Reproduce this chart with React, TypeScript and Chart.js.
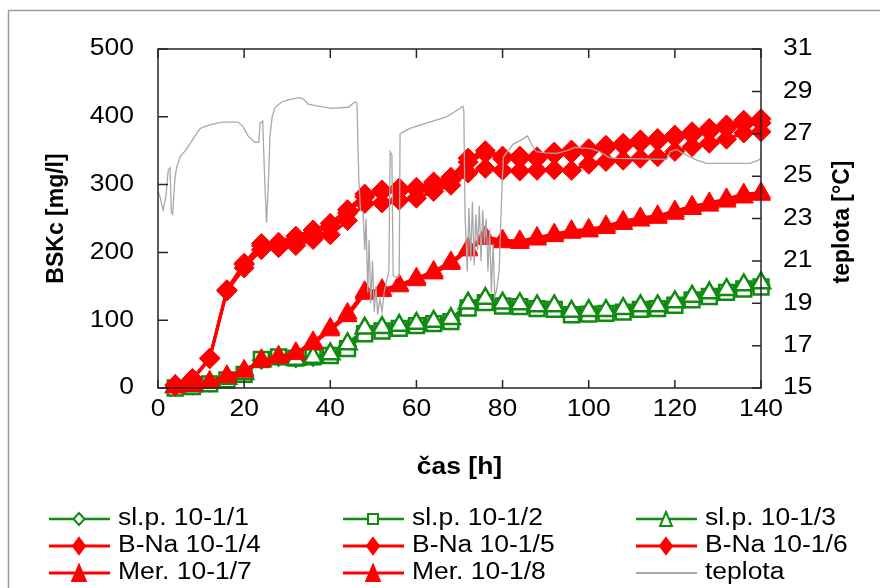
import React, { useEffect, useRef } from 'react';
import { Chart, registerables } from 'chart.js';

Chart.register(...registerables);

// Sampling times [h]
const HOURS = [4, 8, 12, 16, 20, 24, 28, 32, 36, 40, 44, 48, 52, 56, 60, 64, 68, 72, 76, 80, 84, 88, 92, 96, 100, 104, 108, 112, 116, 120, 124, 128, 132, 136, 140];

// BSKc [mg/l]
const SLP_1 = [1, 3, 7, 13, 21, 41, 45, 43, 45, 49, 62, 85, 87, 90, 94, 97, 100, 122, 130, 123, 122, 119, 118, 110, 111, 112, 115, 118, 119, 125, 133, 138, 143, 149, 152];
const SLP_2 = [0, 2, 6, 12, 20, 42, 46, 44, 46, 48, 58, 80, 84, 88, 92, 95, 98, 118, 126, 121, 120, 117, 116, 108, 109, 110, 112, 116, 117, 122, 130, 135, 141, 146, 149];
const SLP_3 = [2, 3, 8, 14, 21, 40, 45, 42, 45, 50, 65, 88, 89, 92, 95, 98, 102, 125, 132, 125, 124, 121, 121, 113, 114, 114, 117, 121, 121, 127, 135, 140, 145, 152, 155];
const BNA_4 = [5, 14, 44, 145, 184, 213, 215, 224, 233, 243, 263, 286, 292, 295, 296, 304, 311, 339, 350, 342, 342, 341, 348, 351, 353, 358, 361, 366, 368, 373, 378, 383, 388, 395, 397];
const BNA_5 = [4, 13, 44, 144, 182, 210, 212, 220, 228, 238, 258, 282, 289, 291, 292, 300, 306, 333, 346, 338, 338, 338, 344, 346, 349, 354, 357, 361, 364, 369, 373, 378, 383, 389, 391];
const BNA_6 = [3, 12, 43, 143, 177, 204, 207, 210, 219, 226, 247, 272, 273, 277, 280, 290, 299, 317, 324, 321, 320, 321, 322, 321, 330, 334, 336, 339, 341, 349, 356, 361, 367, 376, 378];
const MER_7 = [2, 4, 9, 18, 26, 41, 46, 52, 68, 88, 110, 142, 145, 152, 162, 172, 186, 206, 223, 218, 217, 222, 227, 232, 234, 239, 246, 251, 254, 261, 268, 273, 279, 286, 288];
const MER_8 = [1, 3, 8, 16, 24, 39, 45, 50, 65, 85, 106, 139, 143, 150, 159, 169, 183, 203, 220, 215, 214, 219, 224, 229, 231, 236, 242, 247, 251, 257, 264, 269, 275, 281, 285];

// Temperature log [h] / [°C]
const TEMP_HOURS = [0, 0.5, 1.2, 1.8, 2.4, 2.8, 3.1, 3.4, 3.9, 4.3, 5.1, 6.7, 8.6, 9.8, 11.6, 14.8, 18.6, 19.7, 20.9, 22.5, 23.4, 23.7, 24.3, 24.8, 25.2, 25.6, 26.0, 26.5, 27.2, 28.7, 30.3, 32.6, 33.7, 34.9, 37.2, 40.3, 44.2, 45.7, 46.2, 46.6, 47.0, 47.6, 48.0, 48.3, 48.7, 49.0, 49.4, 49.8, 50.2, 50.6, 51.0, 51.5, 52.0, 52.5, 53.0, 53.6, 53.9, 54.3, 54.6, 55.5, 56.0, 56.2, 58.5, 62.3, 67.0, 70.2, 70.8, 71.0, 71.3, 71.8, 72.2, 72.6, 73.0, 73.4, 73.8, 74.2, 74.6, 75.0, 75.4, 75.8, 76.2, 76.6, 77.0, 77.4, 77.8, 78.2, 78.6, 79.2, 79.9, 80.2, 82.4, 84.3, 85.8, 86.6, 87.8, 90.0, 92.5, 95.0, 96.8, 100.6, 102.6, 104.5, 106.5, 118.1, 118.9, 120.4, 121.9, 125.1, 127.4, 137.4, 139.4, 140];
const TEMP_C = [24.3, 24.0, 23.4, 24.0, 25.3, 25.4, 23.3, 23.2, 24.8, 25.4, 25.9, 26.3, 26.9, 27.25, 27.4, 27.55, 27.55, 27.35, 26.9, 26.6, 26.6, 27.5, 27.6, 24.7, 22.8, 24.5, 26.9, 27.8, 28.25, 28.5, 28.6, 28.7, 28.65, 28.4, 28.3, 28.2, 28.25, 28.5, 28.45, 25.0, 23.4, 23.3, 21.5, 23.0, 19.5, 22.0, 19.0, 21.0, 18.6, 19.8, 18.45, 19.2, 18.6, 19.5, 20.0, 20.5, 26.15, 26.0, 20.3, 20.2, 20.3, 27.0, 27.25, 27.5, 27.8, 28.2, 28.3, 28.1, 23.1, 20.5, 23.5, 21.0, 23.8, 20.8, 23.2, 21.5, 23.6, 21.0, 23.4, 21.8, 23.0, 20.5, 22.5, 19.5, 21.8, 19.3, 19.6, 20.5, 24.7, 25.9, 26.5, 26.7, 26.9, 26.55, 26.15, 26.1, 26.07, 26.2, 26.36, 26.3, 26.15, 25.9, 25.84, 25.79, 26.15, 26.26, 26.07, 25.76, 25.6, 25.6, 25.75, 25.85];

// Axis ticks
const X_TICKS = [0, 20, 40, 60, 80, 100, 120, 140];
const LEFT_TICKS = [0, 100, 200, 300, 400, 500];
const RIGHT_TICKS = [15, 17, 19, 21, 23, 25, 27, 29, 31];

const RED = '#ff0000';
const GREEN = '#118a11';
const GRAY = '#a8a8a8';
const FONT_FAMILY = '"Liberation Sans", Arial, sans-serif';
const STRETCH = 1.15;

type LegendItem = { label: string; color: string; marker: string; filled: boolean; width: number };
const LEGEND: LegendItem[] = [
  { label: 'sl.p. 10-1/1', color: GREEN, marker: 'diamond', filled: false, width: 2.5 },
  { label: 'sl.p. 10-1/2', color: GREEN, marker: 'square', filled: false, width: 2.5 },
  { label: 'sl.p. 10-1/3', color: GREEN, marker: 'triangle', filled: false, width: 2.5 },
  { label: 'B-Na 10-1/4', color: RED, marker: 'diamond', filled: true, width: 3 },
  { label: 'B-Na 10-1/5', color: RED, marker: 'diamond', filled: true, width: 3 },
  { label: 'B-Na 10-1/6', color: RED, marker: 'diamond', filled: true, width: 3 },
  { label: 'Mer. 10-1/7', color: RED, marker: 'triangle', filled: true, width: 3 },
  { label: 'Mer. 10-1/8', color: RED, marker: 'triangle', filled: true, width: 3 },
  { label: 'teplota', color: GRAY, marker: 'none', filled: false, width: 2 },
];

function pts(values: number[]) {
  return HOURS.map((h, i) => ({ x: h, y: values[i] }));
}

function text(
  ctx: CanvasRenderingContext2D,
  str: string,
  x: number,
  y: number,
  align: CanvasTextAlign,
  font: string,
  rotate = 0,
  stretch = STRETCH,
) {
  ctx.save();
  ctx.translate(x, y);
  if (rotate) ctx.rotate(rotate);
  ctx.scale(stretch, 1);
  ctx.font = font;
  ctx.fillStyle = '#000';
  ctx.textAlign = align;
  ctx.textBaseline = 'middle';
  ctx.fillText(str, 0, 0);
  ctx.restore();
}

function legendMarker(ctx: CanvasRenderingContext2D, item: LegendItem, cx: number, cy: number) {
  if (item.marker === 'none') return;
  ctx.beginPath();
  if (item.marker === 'diamond') {
    const w = item.filled ? 6 : 5.5;
    const h = item.filled ? 8 : 6;
    ctx.moveTo(cx, cy - h);
    ctx.lineTo(cx + w, cy);
    ctx.lineTo(cx, cy + h);
    ctx.lineTo(cx - w, cy);
    ctx.closePath();
  } else if (item.marker === 'square') {
    ctx.rect(cx - 5, cy - 5, 10, 10);
  } else {
    const h = item.filled ? 8 : 7;
    ctx.moveTo(cx, cy - h);
    ctx.lineTo(cx + h * 0.85, cy + h);
    ctx.lineTo(cx - h * 0.85, cy + h);
    ctx.closePath();
  }
  ctx.fillStyle = item.filled ? item.color : '#fff';
  ctx.fill();
  ctx.lineWidth = 2;
  ctx.strokeStyle = item.color;
  ctx.stroke();
}

const decorations = {
  id: 'decorations',
  afterDraw(chart: any) {
    const { ctx, chartArea: a, scales } = chart;
    const xs = scales.x;
    const yl = scales.y;
    const yr = scales.y1;
    ctx.save();

    // outer frame
    ctx.strokeStyle = '#9c9c9c';
    ctx.lineWidth = 1.5;
    ctx.strokeRect(8.5, 10.5, 900, 700);

    // plot box
    ctx.strokeStyle = '#262626';
    ctx.lineWidth = 1.5;
    ctx.strokeRect(a.left, a.top, a.right - a.left, a.bottom - a.top);

    // inward tick marks
    ctx.beginPath();
    X_TICKS.forEach((v) => {
      const x = xs.getPixelForValue(v);
      ctx.moveTo(x, a.bottom);
      ctx.lineTo(x, a.bottom - 8);
      ctx.moveTo(x, a.top);
      ctx.lineTo(x, a.top + 9);
    });
    LEFT_TICKS.forEach((v) => {
      const y = yl.getPixelForValue(v);
      ctx.moveTo(a.left, y);
      ctx.lineTo(a.left + 10, y);
    });
    RIGHT_TICKS.forEach((v) => {
      const y = yr.getPixelForValue(v);
      ctx.moveTo(a.right, y);
      ctx.lineTo(a.right - 9, y);
    });
    ctx.stroke();

    // tick labels
    const tickFont = `23px ${FONT_FAMILY}`;
    LEFT_TICKS.forEach((v) => text(ctx, String(v), 134, yl.getPixelForValue(v), 'right', tickFont));
    RIGHT_TICKS.forEach((v) => text(ctx, String(v), 783, yr.getPixelForValue(v), 'left', tickFont));
    X_TICKS.forEach((v) => text(ctx, String(v), xs.getPixelForValue(v), 410, 'center', tickFont));

    // axis titles
    const titleFont = `bold 23px ${FONT_FAMILY}`;
    text(ctx, 'BSKc [mg/l]', 57, (a.top + a.bottom) / 2, 'center', titleFont, -Math.PI / 2, 1);
    text(ctx, 'teplota [°C]', 843, 222, 'center', titleFont, -Math.PI / 2, 1);
    text(ctx, 'čas [h]', (a.left + a.right) / 2, 468, 'center', titleFont);

    // legend, three columns
    const colX = [49, 343, 636];
    const rowY = [519, 546, 573];
    LEGEND.forEach((item, i) => {
      const x0 = colX[i % 3];
      const y0 = rowY[Math.floor(i / 3)];
      ctx.beginPath();
      ctx.moveTo(x0, y0);
      ctx.lineTo(x0 + 61, y0);
      ctx.strokeStyle = item.color;
      ctx.lineWidth = item.width;
      ctx.stroke();
      legendMarker(ctx, item, x0 + 30, y0);
      text(ctx, item.label, x0 + 69, y0, 'left', `23px ${FONT_FAMILY}`);
    });

    ctx.restore();
  },
};

export default function App() {
  const canvasRef = useRef<HTMLCanvasElement | null>(null);

  useEffect(() => {
    const canvas = canvasRef.current;
    if (!canvas) return;

    const redSeries = (label: string, values: number[], style: string, radius: number, order: number) => ({
      label,
      data: pts(values),
      borderColor: RED,
      backgroundColor: RED,
      pointBackgroundColor: RED,
      pointBorderColor: RED,
      pointStyle: style,
      pointRadius: radius,
      pointBorderWidth: 1,
      borderWidth: 3,
      order,
      clip: false,
    });
    const greenSeries = (label: string, values: number[], style: string, radius: number, order: number) => ({
      label,
      data: pts(values),
      borderColor: GREEN,
      backgroundColor: '#ffffff',
      pointBackgroundColor: '#ffffff',
      pointBorderColor: GREEN,
      pointStyle: style,
      pointRadius: radius,
      pointBorderWidth: 2.5,
      borderWidth: 2.5,
      order,
      clip: false,
    });

    const chart = new Chart(canvas, {
      type: 'line',
      data: {
        datasets: [
          {
            label: 'teplota',
            data: TEMP_HOURS.map((h, i) => ({ x: h, y: TEMP_C[i] })),
            yAxisID: 'y1',
            borderColor: GRAY,
            borderWidth: 1.3,
            pointRadius: 0,
            order: 0,
          } as any,
          redSeries('Mer. 10-1/7', MER_7, 'triangle', 11, 1),
          redSeries('Mer. 10-1/8', MER_8, 'triangle', 11, 2),
          redSeries('B-Na 10-1/4', BNA_4, 'rectRot', 10, 3),
          redSeries('B-Na 10-1/5', BNA_5, 'rectRot', 10, 4),
          redSeries('B-Na 10-1/6', BNA_6, 'rectRot', 10, 5),
          greenSeries('sl.p. 10-1/3', SLP_3, 'triangle', 10.5, 6),
          greenSeries('sl.p. 10-1/2', SLP_2, 'rect', 10.5, 7),
          greenSeries('sl.p. 10-1/1', SLP_1, 'rectRot', 8, 8),
        ],
      },
      options: {
        responsive: false,
        animation: false,
        devicePixelRatio: 1,
        layout: { padding: { top: 49, left: 0, right: 0, bottom: 0 } },
        plugins: { legend: { display: false }, tooltip: { enabled: false } },
        scales: {
          x: {
            type: 'linear',
            min: 0,
            max: 140,
            grid: { display: false },
            border: { display: false },
            ticks: { display: false },
            afterFit: (s: any) => { s.height = 200; },
          },
          y: {
            type: 'linear',
            position: 'left',
            min: 0,
            max: 500,
            grid: { display: false },
            border: { display: false },
            ticks: { display: false },
            afterFit: (s: any) => { s.width = 158; },
          },
          y1: {
            type: 'linear',
            position: 'right',
            min: 15,
            max: 31,
            grid: { display: false },
            border: { display: false },
            ticks: { display: false },
            afterFit: (s: any) => { s.width = 119; },
          },
        },
      } as any,
      plugins: [decorations],
    });

    return () => chart.destroy();
  }, []);

  return (
    <div style={{ position: 'absolute', left: 0, top: 0, width: 880, height: 588, background: '#fff' }}>
      <canvas ref={canvasRef} width={880} height={588} style={{ width: 880, height: 588, display: 'block' }} />
    </div>
  );
}
